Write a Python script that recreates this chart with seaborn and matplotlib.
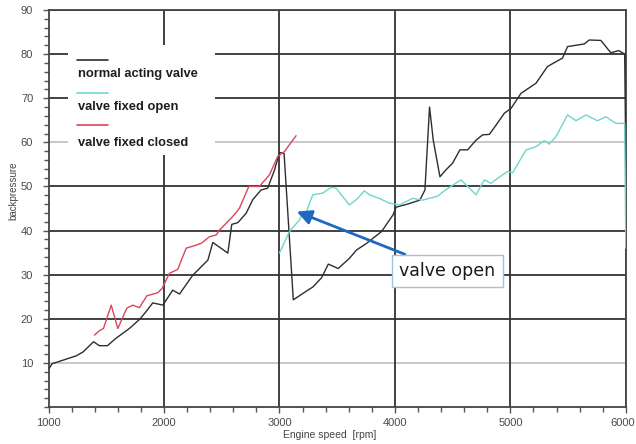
import numpy as np
import pandas as pd
import matplotlib
matplotlib.use("Agg")
import matplotlib.pyplot as plt
from matplotlib.patches import Rectangle
from matplotlib.ticker import MultipleLocator
import matplotlib.transforms as mtransforms
import seaborn as sns

# ---------------- data ----------------
normal_x = [1000, 1030, 1100, 1240, 1300, 1390, 1440, 1510, 1585, 1700, 1790, 1850, 1903, 1990,
            2076, 2134, 2250, 2300, 2380, 2423, 2553, 2587, 2640, 2711, 2769, 2841, 2898, 2957,
            3000, 3040, 3120, 3235, 3289, 3365, 3423, 3509, 3606, 3668, 3755, 3885, 3985, 4010,
            4110, 4216, 4260, 4300, 4332, 4390, 4440, 4500, 4563, 4630, 4703, 4760, 4818, 4876,
            4948, 5006, 5092, 5222, 5322, 5452, 5495, 5640, 5683, 5784, 5870, 5939, 5990, 6000]
normal_y = [8.5, 9.8, 10.4, 11.6, 12.5, 14.8, 13.9, 13.9, 15.6, 17.8, 19.9, 21.8, 23.6, 23.1,
            26.5, 25.6, 29.9, 31.2, 33.3, 37.3, 34.9, 41.4, 41.8, 43.9, 47.0, 49.2, 49.6, 53.7,
            57.7, 57.5, 24.3, 26.3, 27.2, 29.3, 32.4, 31.4, 33.7, 35.6, 37.1, 39.8, 43.6, 45.3,
            46.0, 46.9, 49.2, 68.0, 60.5, 52.2, 53.7, 55.3, 58.3, 58.3, 60.5, 61.7, 61.8, 63.9,
            66.6, 67.7, 71.1, 73.4, 77.2, 79.1, 81.7, 82.3, 83.2, 83.1, 80.3, 80.8, 80.0, 56.0]

open_x = [3000, 3087, 3173, 3200, 3231, 3260, 3289, 3376, 3448, 3491, 3606, 3678, 3736, 3779,
          3865, 3952, 4039, 4154, 4240, 4370, 4443, 4573, 4703, 4775, 4833, 4876, 4977, 5020,
          5136, 5222, 5294, 5337, 5395, 5495, 5568, 5654, 5755, 5827, 5914, 5990, 6000]
open_y = [34.9, 39.8, 42.4, 43.9, 43.9, 46.2, 48.1, 48.5, 49.8, 49.6, 45.8, 47.3, 49.0, 48.1,
          47.3, 46.2, 45.8, 47.3, 46.9, 47.8, 49.3, 51.5, 48.1, 51.5, 50.7, 51.6, 53.4, 53.1,
          58.3, 59.0, 60.4, 59.6, 61.3, 66.2, 64.9, 66.2, 64.9, 65.8, 64.3, 64.3, 36.0]

closed_x = [1398, 1441, 1476, 1543, 1600, 1678, 1730, 1787, 1851, 1946, 1984, 2047, 2119, 2192,
            2279, 2322, 2394, 2452, 2480, 2582, 2625, 2654, 2735, 2826, 2913, 2985, 3043, 3144]
closed_y = [16.3, 17.3, 17.8, 23.1, 17.8, 22.4, 23.1, 22.5, 25.2, 25.9, 26.9, 30.3, 31.2, 36.0,
            36.7, 37.1, 38.6, 39.0, 40.1, 42.8, 44.1, 45.1, 50.0, 50.0, 52.6, 56.8, 57.9, 61.5]

series_names = ["normal acting valve", "valve fixed open", "valve fixed closed"]
series_colors = ["#2e2e2e", "#6fd6cc", "#d9465e"]

x_ticks = [1000, 2000, 3000, 4000, 5000, 6000]
y_ticks = [10, 20, 30, 40, 50, 60, 70, 80, 90]
light_grid_y = [10, 60]

annotation_text = "valve open"
annotation_xy = (3150, 44.3)
annotation_text_pos = (4455, 30.8)

# ---------------- frame ----------------
df = pd.concat([
    pd.DataFrame({"speed": normal_x, "backpressure": normal_y, "series": series_names[0]}),
    pd.DataFrame({"speed": open_x, "backpressure": open_y, "series": series_names[1]}),
    pd.DataFrame({"speed": closed_x, "backpressure": closed_y, "series": series_names[2]}),
], ignore_index=True)

sns.set_style("white")
plt.rcParams["font.family"] = ["DejaVu Sans"]

fig = plt.figure(figsize=(6.36, 4.44), dpi=100)
ax = fig.add_axes([0.0763, 0.0833, 0.9077, 0.8942])

ax.set_axisbelow(True)
sns.lineplot(data=df, x="speed", y="backpressure", hue="series",
             palette=dict(zip(series_names, series_colors)),
             sort=False, estimator=None, legend=False, linewidth=1.0, ax=ax, zorder=3)

ax.set_xlim(1000, 6000)
ax.set_ylim(0, 90)
ax.set_xticks(x_ticks)
ax.set_yticks(y_ticks)
ax.xaxis.set_minor_locator(MultipleLocator(200))
ax.yaxis.set_minor_locator(MultipleLocator(2))

# gridlines
for yv in y_ticks:
    col = "#c4c4c4" if yv in light_grid_y else "#333333"
    ax.axhline(yv, color=col, lw=1.3, zorder=0.5)
for xv in x_ticks[1:]:
    ax.axvline(xv, color="#333333", lw=1.3, zorder=0.5)

for s in ax.spines.values():
    s.set_color("#444444")
    s.set_linewidth(1.3)

tick_font = ["Liberation Sans Narrow", "Liberation Sans", "DejaVu Sans"]
ax.tick_params(axis="both", which="both", bottom=True, left=True, top=False, right=False)
ax.tick_params(axis="both", which="major", direction="out", length=4, width=1,
               color="#555555", labelsize=8, labelcolor="#4a4a4a")
ax.tick_params(axis="both", which="minor", direction="out", length=3.5, width=1,
               color="#555555")
ax.tick_params(axis="x", which="major", pad=4)
ax.tick_params(axis="y", which="major", pad=7)
xlabels = ax.get_xticklabels()
for lab in xlabels + ax.get_yticklabels():
    lab.set_family(tick_font)
# nudge the last x tick label so it stays inside the figure
xlabels[-1].set_transform(xlabels[-1].get_transform() +
                          mtransforms.ScaledTranslation(-3 / 100, 0, fig.dpi_scale_trans))

ax.set_xlabel("Engine speed  [rpm]", fontsize=7.5, color="#444444", family=tick_font)
ax.set_ylabel("backpressure", fontsize=7, color="#444444", family=tick_font)
ax.xaxis.set_label_coords(0.487, -0.058)
ax.yaxis.set_label_coords(-0.052, 0.545)

# legend block (white box with line samples above the labels)
ax.add_patch(Rectangle((0.034, 0.635), 0.254, 0.277, transform=ax.transAxes,
                       facecolor="white", edgecolor="none", zorder=1))
leg_line_y = [0.874, 0.791, 0.710]
leg_text_y = [0.839, 0.756, 0.665]
for name, col, ly, ty in zip(series_names, series_colors, leg_line_y, leg_text_y):
    ax.plot([0.049, 0.103], [ly, ly], color=col, lw=1.2, transform=ax.transAxes, zorder=4)
    ax.text(0.051, ty, name, transform=ax.transAxes, fontsize=9.3, fontweight="bold",
            family=["Liberation Sans", "DejaVu Sans"], color="#1e1e1e", va="center",
            ha="left", zorder=4)

# annotation
ax.annotate(annotation_text, xy=annotation_xy, xytext=annotation_text_pos,
            fontsize=12.5, color="#1a1a1a", ha="center", va="center",
            bbox=dict(boxstyle="square,pad=0.42", facecolor="white", edgecolor="#9ec4e2", lw=1),
            arrowprops=dict(arrowstyle="-|>,head_length=0.7,head_width=0.35",
                            color="#1f68c1", lw=2, shrinkA=0, shrinkB=0),
            zorder=5)

fig.savefig("out.png", dpi=100)
